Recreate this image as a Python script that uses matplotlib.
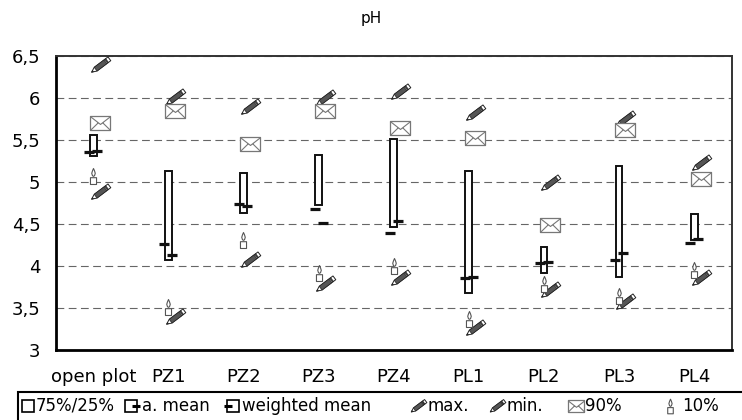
import numpy as np
import matplotlib
matplotlib.use('Agg')
import matplotlib.pyplot as plt
from matplotlib.path import Path
from matplotlib.markers import MarkerStyle
from matplotlib.transforms import Affine2D
from matplotlib.lines import Line2D
from matplotlib.patches import Rectangle

plt.rcParams['font.family'] = ['DejaVu Sans']

# datos
cats = ['open plot', 'PZ1', 'PZ2', 'PZ3', 'PZ4', 'PL1', 'PL2', 'PL3', 'PL4']
q75 = [5.56, 5.14, 5.11, 5.32, 5.52, 5.13, 4.23, 5.20, 4.62]
q25 = [5.31, 4.07, 4.63, 4.73, 4.47, 3.68, 3.92, 3.87, 4.31]
a_mean = [5.36, 4.27, 4.74, 4.68, 4.40, 3.86, 4.04, 4.08, 4.28]
w_mean = [5.37, 4.13, 4.72, 4.51, 4.54, 3.87, 4.05, 4.16, 4.32]
v_max = [6.40, 6.02, 5.90, 6.00, 6.07, 5.83, 4.99, 5.75, 5.23]
v_min = [4.88, 3.40, 4.07, 3.79, 3.86, 3.26, 3.72, 3.57, 3.86]
p90 = [5.71, 5.85, 5.46, 5.85, 5.65, 5.53, 4.49, 5.62, 5.04]
p10 = [5.07, 3.52, 4.31, 3.92, 4.00, 3.37, 3.79, 3.65, 3.96]
yticks = [3, 3.5, 4, 4.5, 5, 5.5, 6, 6.5]
ytick_labels = ['3', '3,5', '4', '4,5', '5', '5,5', '6', '6,5']


def shape(polys, lines=()):
    # anclas fijas para que todas las piezas tengan la misma escala
    verts = [(-1, -1), (1, 1)]
    codes = [Path.MOVETO, Path.MOVETO]
    for p in polys:
        verts += list(p) + [p[0]]
        codes += [Path.MOVETO] + [Path.LINETO] * (len(p) - 1) + [Path.CLOSEPOLY]
    for l in lines:
        verts += list(l)
        codes += [Path.MOVETO] + [Path.LINETO] * (len(l) - 1)
    return Path(verts, codes)


w = 0.21
rot = Affine2D().rotate_deg(37)
pencil_out = MarkerStyle(shape([[(-1, 0), (-0.55, w), (1, w), (1, -w), (-0.55, -w)]]), transform=rot)
pencil_body = MarkerStyle(shape([[(-0.55, w), (0.55, w), (0.55, -w), (-0.55, -w)],
                                 [(-1, 0), (-0.85, 0.07), (-0.85, -0.07)],
                                 [(0.64, w), (0.74, w), (0.74, -w), (0.64, -w)]]), transform=rot)
env_box = MarkerStyle(shape([[(-1, -0.68), (1, -0.68), (1, 0.68), (-1, 0.68)]]))
env_fold = MarkerStyle(shape([], [[(-1, 0.68), (0, -0.1), (1, 0.68)],
                                  [(-1, -0.68), (-0.25, 0.05)],
                                  [(1, -0.68), (0.25, 0.05)]]))
candle = MarkerStyle(shape([[(-0.38, -1), (0.38, -1), (0.38, -0.15), (-0.38, -0.15)],
                            [(0, 1), (0.13, 0.7), (0.22, 0.4), (0.13, 0.1), (0, 0.02),
                             (-0.13, 0.1), (-0.22, 0.4), (-0.13, 0.7)]]))


def draw_pencil(ax, x, y, **kw):
    ax.plot(x, y, ls='none', marker=pencil_out, ms=16, mfc='white', mec='#222', mew=0.7, **kw)
    ax.plot(x, y, ls='none', marker=pencil_body, ms=16, mfc='#555', mec='#222', mew=0.5, **kw)


def draw_env(ax, x, y, ms=14, **kw):
    ax.plot(x, y, ls='none', marker=env_box, ms=ms, mfc='white', mec='#777', mew=0.9, **kw)
    ax.plot(x, y, ls='none', marker=env_fold, ms=ms, mfc='none', mec='#777', mew=0.8, **kw)


def draw_candle(ax, x, y, ms=11.5, **kw):
    ax.plot(x, y, ls='none', marker=candle, ms=ms, mfc='white', mec='#555', mew=0.8, **kw)


fig = plt.figure(figsize=(7.42, 4.2), dpi=100)
ax = fig.add_axes([55.7 / 742, 1 - 350.3 / 420, 676 / 742, 294 / 420])

x = np.arange(len(cats))
q75a, q25a = np.array(q75), np.array(q25)

ax.bar(x, q75a - q25a, bottom=q25a, width=0.09, facecolor='white',
       edgecolor='#111', linewidth=1.4, zorder=3)
ax.plot(x - 0.053, a_mean, ls='none', marker='_', ms=7.5, mew=2.3, color='#111', zorder=4)
ax.plot(x + 0.053, w_mean, ls='none', marker='_', ms=7.5, mew=2.3, color='#111', zorder=4)

draw_pencil(ax, x + 0.085, v_max, zorder=5)
draw_pencil(ax, x + 0.085, v_min, zorder=5)
draw_env(ax, x + 0.085, p90, zorder=5)
draw_candle(ax, x, p10, zorder=5)

ax.set_xlim(-0.5, len(cats) - 0.5)
ax.set_ylim(3, 6.5)
ax.set_yticks(yticks)
ax.set_yticklabels(ytick_labels)
ax.set_xticks(x)
ax.set_xticklabels(cats)
ax.tick_params(length=0, labelsize=13, colors='black')
ax.tick_params(axis='y', pad=11)
ax.tick_params(axis='x', pad=13)
ax.yaxis.grid(True, linestyle=(0, (7, 4)), color='#666', linewidth=0.8)
ax.set_axisbelow(True)
for s in ['left', 'bottom']:
    ax.spines[s].set_linewidth(2)
    ax.spines[s].set_color('black')
for s in ['top', 'right']:
    ax.spines[s].set_linewidth(1.4)
    ax.spines[s].set_color('#333')

fig.text(0.5, 1 - 18 / 420, 'pH', ha='center', va='center', fontsize=11)

# leyenda hecha a mano
fig.add_artist(Rectangle((18 / 742, -0.05), 1, 0.05 + 28 / 420, transform=fig.transFigure,
                         fill=False, lw=1.5, edgecolor='black', clip_on=False))
ly = 1 - 406 / 420


def fx(px):
    return px / 742


def legend_mark(px, **kw):
    fig.add_artist(Line2D([fx(px)], [ly], transform=fig.transFigure, ls='none', **kw))


legend_mark(28, marker='s', ms=8.5, mfc='white', mec='black', mew=1.2)
legend_mark(131, marker='s', ms=8.5, mfc='white', mec='black', mew=1.2)
legend_mark(136, marker='_', ms=6, mew=2.2, color='black')
legend_mark(233, marker='s', ms=8.5, mfc='white', mec='black', mew=1.2)
legend_mark(228, marker='_', ms=6, mew=2.2, color='black')
for px in [418, 497]:
    legend_mark(px, marker=pencil_out, ms=13, mfc='white', mec='#222', mew=0.7)
    legend_mark(px, marker=pencil_body, ms=13, mfc='#555', mec='#222', mew=0.5)
legend_mark(576, marker=env_box, ms=12, mfc='white', mec='#777', mew=0.9)
legend_mark(576, marker=env_fold, ms=12, mfc='none', mec='#777', mew=0.8)
legend_mark(670, marker=candle, ms=10.5, mfc='white', mec='#555', mew=0.8)

legend_items = [(36, '75%/25%'), (142, 'a. mean'), (242, 'weighted mean'),
                (428, 'max.'), (507, 'min.'), (585, '90%'), (682, '10%')]
for px, label in legend_items:
    fig.text(fx(px), ly, label, ha='left', va='center', fontsize=12)

fig.savefig('out.png', dpi=100)
